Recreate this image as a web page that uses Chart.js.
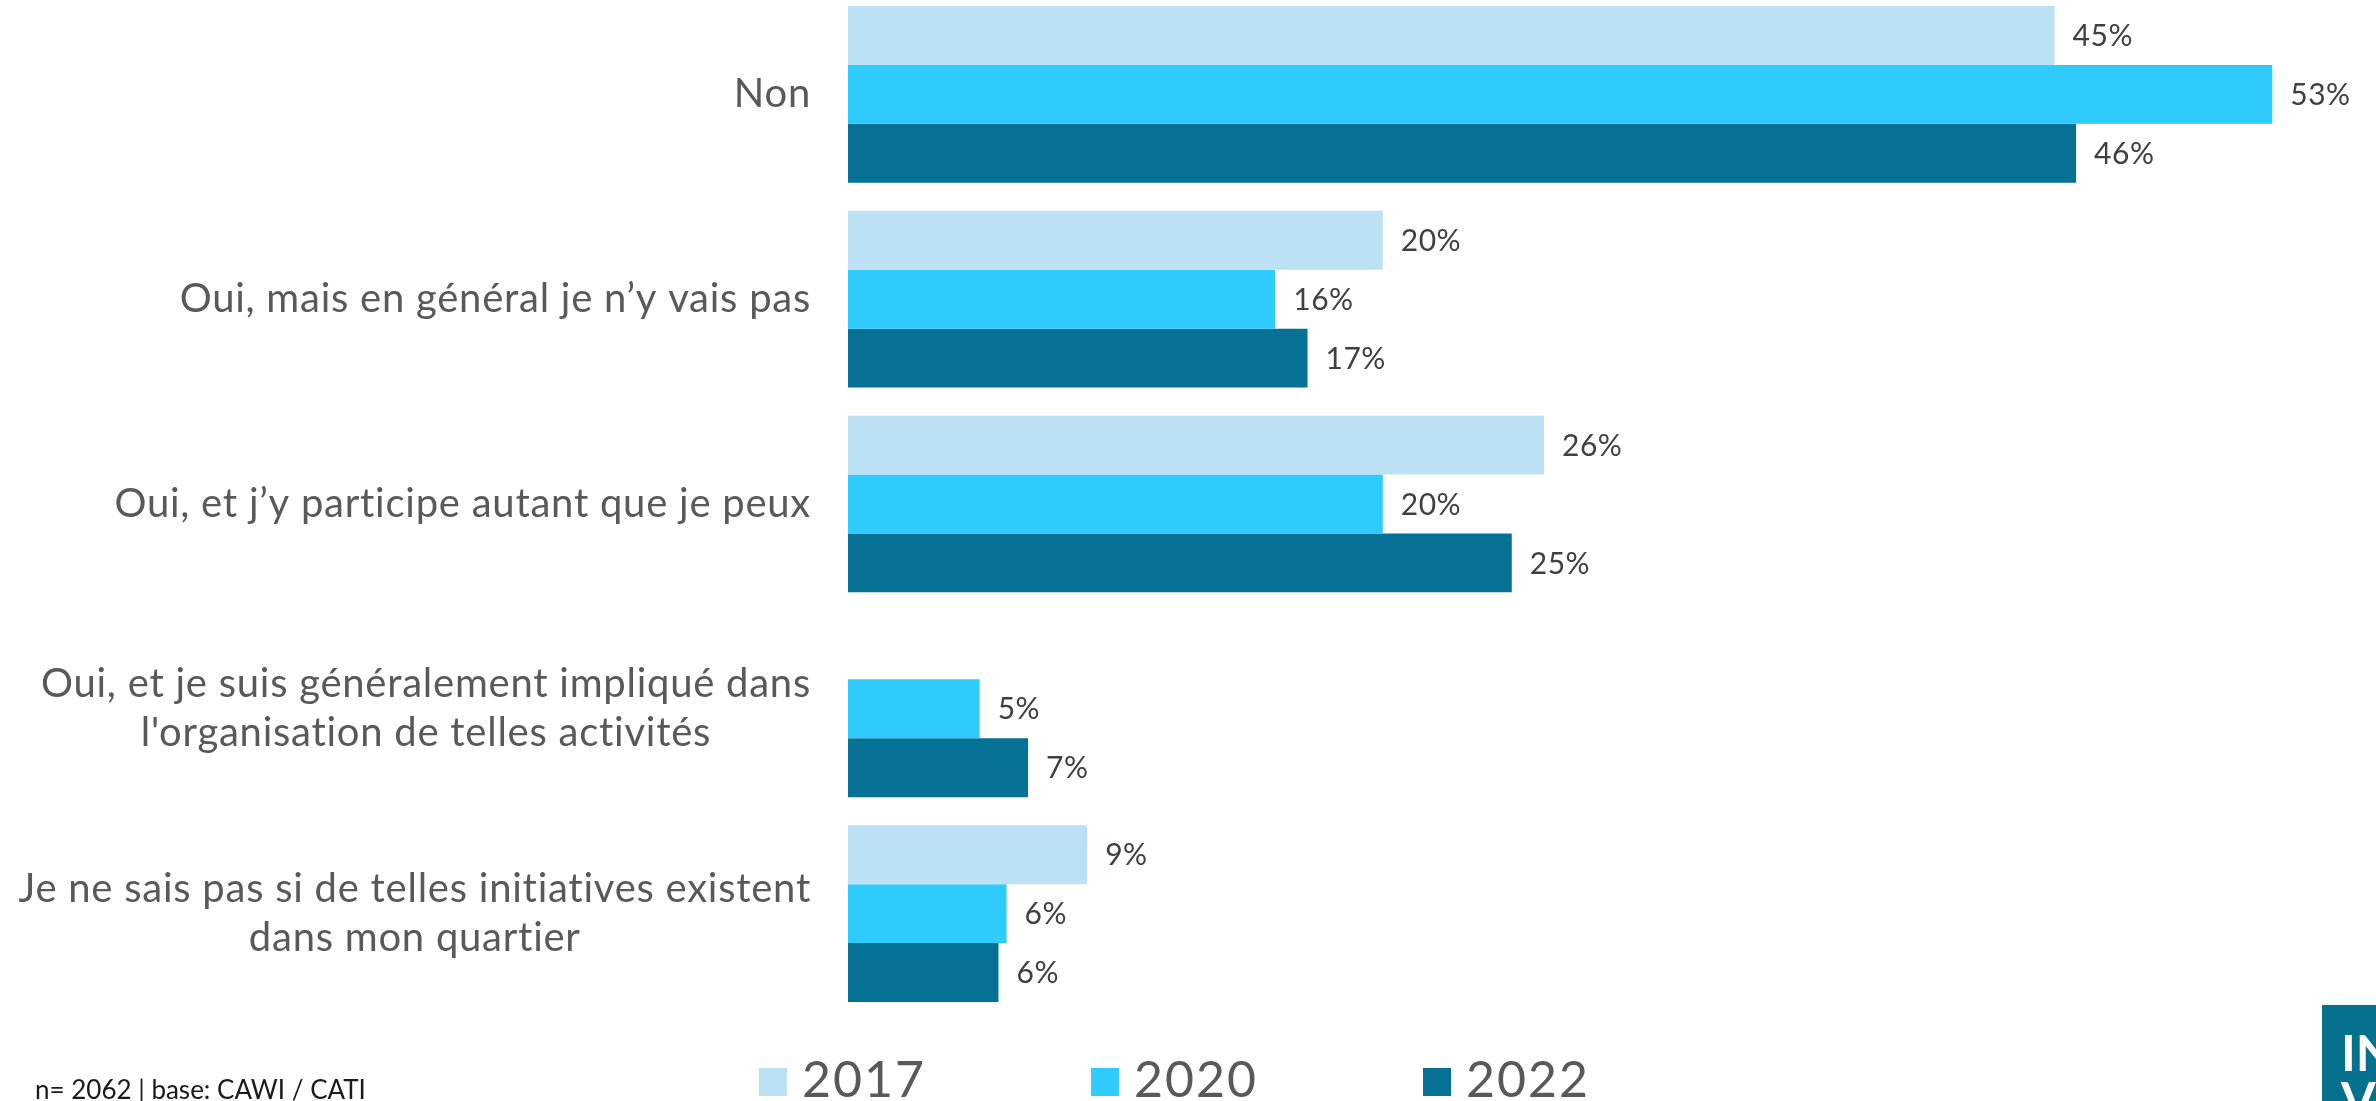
<!DOCTYPE html>
<html><head><meta charset="utf-8">
<script src="https://cdn.jsdelivr.net/npm/chart.js@4/dist/chart.umd.min.js"></script>
<style>
html,body{margin:0;padding:0;background:#fff;overflow:hidden;width:2376px;height:1101px}
#wrap{position:absolute;left:0;top:-8px;width:2376px;height:1109px}
</style></head>
<body><div id="wrap"><canvas id="c"></canvas></div>
<script>
const categories = [
  ["Non"],
  ["Oui, mais en général je n’y vais pas"],
  ["Oui, et j’y participe autant que je peux"],
  ["Oui, et je suis généralement impliqué dans", "l'organisation de telles activités"],
  ["Je ne sais pas si de telles initiatives existent", "dans mon quartier"]
];
const seriesNames = ["2017", "2020", "2022"];
const values2017 = [44.9, 19.9, 25.9, null, 8.9];
const values2020 = [53.0, 15.9, 19.9, 4.9, 5.9];
const values2022 = [45.7, 17.1, 24.7, 6.7, 5.6];
const seriesColors = ["#BCE0F4", "#2ECBFC", "#057194"];
const footnote = "n= 2062 | base: CAWI / CATI";

const OFF = 8; // canvas is shifted up by 8px
const LABEL_FONT = "Lato, 'Open Sans', sans-serif";

const labelPlugin = {
  id: 'customText',
  afterDraw(chart) {
    const ctx = chart.ctx;
    const yScale = chart.scales.y;
    ctx.save();
    // category labels: block right-aligned, lines centered within block
    ctx.font = "40px " + LABEL_FONT;
    ctx.letterSpacing = "0.75px";
    ctx.fillStyle = "#595959";
    ctx.textBaseline = "middle";
    ctx.textAlign = "center";
    categories.forEach((lines, i) => {
      const y = yScale.getPixelForValue(i);
      const w = Math.max(...lines.map(l => ctx.measureText(l).width));
      const cx = 811 - w / 2;
      lines.forEach((l, j) => {
        ctx.fillText(l, cx, y + (j - (lines.length - 1) / 2) * 49);
      });
    });
    // data labels
    ctx.letterSpacing = "0.5px";
    ctx.font = "30px " + LABEL_FONT;
    ctx.fillStyle = "#404040";
    ctx.textAlign = "left";
    chart.data.datasets.forEach((ds, di) => {
      const meta = chart.getDatasetMeta(di);
      meta.data.forEach((bar, i) => {
        const v = ds.data[i];
        if (v === null || v === undefined) return;
        ctx.fillText(Math.round(v) + "%", bar.x + 18, bar.y + 1);
      });
    });
    // legend
    ctx.letterSpacing = "2px";
    chart.data.datasets.forEach((ds, di) => {
      const x = 759 + di * 332;
      ctx.fillStyle = ds.backgroundColor;
      ctx.fillRect(x, 1068 + OFF, 28, 28);
      ctx.fillStyle = "#595959";
      ctx.font = "50px " + LABEL_FONT;
      ctx.textBaseline = "alphabetic";
      ctx.fillText(ds.label, x + 43, 1097 + OFF);
    });
    // footnote
    ctx.letterSpacing = "0px";
    ctx.fillStyle = "#1a1a1a";
    ctx.font = "26px " + LABEL_FONT;
    ctx.fillText(footnote, 35, 1099 + OFF);
    // logo
    ctx.fillStyle = "#06708F";
    ctx.fillRect(2322, 1005 + OFF, 60, 100);
    ctx.fillStyle = "#ffffff";
    ctx.font = "bold 50px " + LABEL_FONT;
    ctx.fillText("IN", 2341, 1071 + OFF);
    ctx.fillText("VI", 2341, 1118 + OFF);
    ctx.restore();
  }
};

new Chart(document.getElementById('c'), {
  type: 'bar',
  data: {
    labels: categories,
    datasets: [
      { label: seriesNames[0], data: values2017, backgroundColor: seriesColors[0] },
      { label: seriesNames[1], data: values2020, backgroundColor: seriesColors[1] },
      { label: seriesNames[2], data: values2022, backgroundColor: seriesColors[2] }
    ]
  },
  options: {
    indexAxis: 'y',
    responsive: true,
    maintainAspectRatio: false,
    animation: false,
    datasets: { bar: { barPercentage: 1.0, categoryPercentage: 0.863, borderWidth: 0 } },
    layout: { padding: { left: 848, right: 50, top: 0, bottom: 85 } },
    scales: {
      x: { min: 0, max: 55, display: false },
      y: { display: false }
    },
    plugins: { legend: { display: false }, tooltip: { enabled: false } }
  },
  plugins: [labelPlugin]
});
</script>
</body></html>
